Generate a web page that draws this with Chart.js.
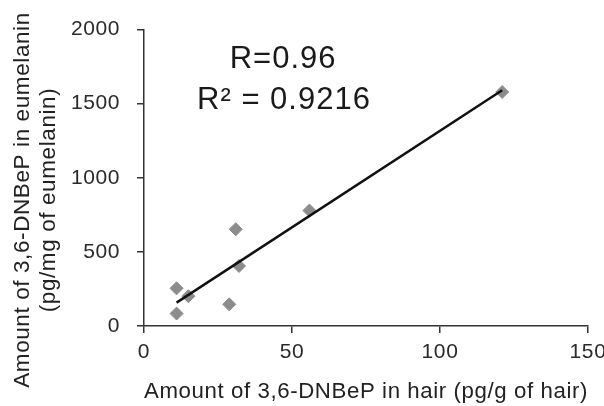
<!DOCTYPE html>
<html>
<head>
<meta charset="utf-8">
<script src="https://cdn.jsdelivr.net/npm/chart.js@4/dist/chart.umd.min.js"></script>
<style>
body { margin: 0; overflow: hidden; background: #fff; }
#wrap { width: 620px; height: 406px; }
</style>
</head>
<body>
<div id="wrap"><canvas id="myChart"></canvas></div>
<script>
// values
var hairAmount = [11, 11, 15, 28.8, 31, 32.1, 55.9, 121];
var eumelaninAmount = [84, 254, 201, 146, 653, 405, 779, 1579];
var xTicks = [0, 50, 100, 150];
var yTicks = [0, 500, 1000, 1500, 2000];
var yTitle = ["Amount of 3,6-DNBeP in eumelanin", "(pg/mg of eumelanin)"];
var xTitle = "Amount of 3,6-DNBeP in hair (pg/g of hair)";
var statLines = ["R=0.96", "R\u00b2 = 0.9216"];

var FONT = "'Liberation Sans', Arial, sans-serif";

// least squares trend line
function trend(xs, ys){
	var n = xs.length, sx = 0, sy = 0, sxx = 0, sxy = 0;
	for (var i = 0; i < n; i++){
		sx += xs[i]; sy += ys[i];
		sxx += xs[i]*xs[i]; sxy += xs[i]*ys[i];
	}
	var b = (n*sxy - sx*sy) / (n*sxx - sx*sx);
	var a = (sy - b*sx) / n;
	var x0 = Math.min.apply(null, xs), x1 = Math.max.apply(null, xs);
	return [{x: x0, y: a + b*x0}, {x: x1, y: a + b*x1}];
}

var pts = hairAmount.map(function(v, i){ return {x: v, y: eumelaninAmount[i]}; });

var textPlugin = {
	id: 'textPlugin',
	beforeDraw: function(chart){
		// the source figure's text is a bit wider than Arial
		chart.ctx.letterSpacing = '0.6px';
	},
	afterDraw: function(chart){
		var ctx = chart.ctx;
		var xs = chart.scales.x, ys = chart.scales.y;
		ctx.save();
		ctx.fillStyle = '#1a1a1a';
		ctx.textAlign = 'center';
		ctx.textBaseline = 'middle';
		ctx.letterSpacing = '1px';
		ctx.font = '31px ' + FONT;
		ctx.fillText(statLines[0], xs.getPixelForValue(47), ys.getPixelForValue(1800));
		ctx.fillText(statLines[1], xs.getPixelForValue(47.3), ys.getPixelForValue(1522));
		// y axis title, two lines
		ctx.letterSpacing = '0.6px';
		ctx.font = '22.5px ' + FONT;
		ctx.fillStyle = '#222';
		ctx.translate(0, 200);
		ctx.rotate(-Math.PI/2);
		ctx.fillText(yTitle[0], 0, 23);
		ctx.fillText(yTitle[1], 0, 49);
		ctx.restore();
	}
};

var ctx = document.getElementById('myChart').getContext('2d');
var chart = new Chart(ctx, {
	type: 'scatter',
	data: {
		datasets: [{
			data: pts,
			pointStyle: 'rectRot',
			pointRadius: 6.5,
			backgroundColor: '#8c8c8c',
			borderColor: '#8c8c8c',
			borderWidth: 1,
			order: 2
		}, {
			type: 'line',
			data: trend(hairAmount, eumelaninAmount),
			borderColor: '#111',
			borderWidth: 2.5,
			pointRadius: 0,
			fill: false,
			order: 1
		}]
	},
	plugins: [textPlugin],
	options: {
		responsive: true,
		maintainAspectRatio: false,
		animation: false,
		layout: { padding: { top: 25, right: 32, left: 0, bottom: 0 } },
		plugins: { legend: { display: false }, tooltip: { enabled: false } },
		scales: {
			x: {
				type: 'linear',
				min: 0, max: 150,
				afterBuildTicks: function(s){ s.ticks = xTicks.map(function(v){ return {value: v}; }); },
				afterFit: function(s){ s.height = 80; },
				grid: { drawOnChartArea: false, tickLength: 7, color: '#333', lineWidth: 1.5 },
				border: { color: '#333', width: 1.5 },
				ticks: { color: '#2a2a2a', font: { family: FONT, size: 21 }, padding: 7, maxRotation: 0,
					callback: function(v){ return String(v); } },
				title: { display: true, text: xTitle, color: '#222', font: { family: FONT, size: 22.5 }, padding: { top: 0, bottom: 1 } }
			},
			y: {
				type: 'linear',
				min: 0, max: 2000,
				afterBuildTicks: function(s){ s.ticks = yTicks.map(function(v){ return {value: v}; }); },
				afterFit: function(s){ s.width = 144; },
				grid: { drawOnChartArea: false, tickLength: 7, color: '#333', lineWidth: 1.5 },
				border: { color: '#333', width: 1.5 },
				ticks: { color: '#2a2a2a', font: { family: FONT, size: 21 }, padding: 17,
					callback: function(v){ return String(v); } }
			}
		}
	}
});
</script>
</body>
</html>
